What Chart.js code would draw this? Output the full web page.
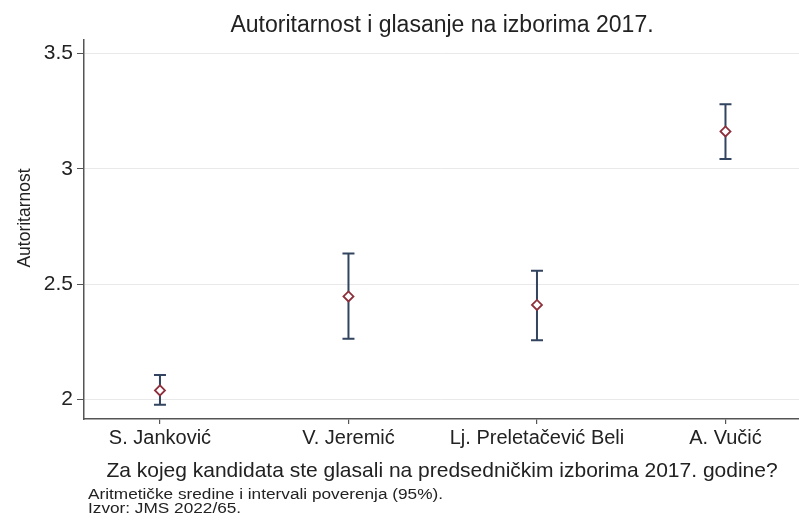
<!DOCTYPE html>
<html>
<head>
<meta charset="utf-8">
<script src="https://cdn.jsdelivr.net/npm/chart.js@4"></script>
<style>
  html, body { margin: 0; padding: 0; background: #fff; }
  canvas { display: block; }
</style>
</head>
<body>
<canvas id="chart" width="799" height="521"></canvas>
<script>
// data
const categories = ['S. Janković', 'V. Jeremić', 'Lj. Preletačević Beli', 'A. Vučić'];
const means = [2.040, 2.447, 2.410, 3.162];
const ciLow = [1.978, 2.264, 2.257, 3.042];
const ciHigh = [2.107, 2.633, 2.558, 3.280];
const yTicks = [2, 2.5, 3, 3.5];
const yTickLabels = ['2', '2.5', '3', '3.5'];

const titleText = 'Autoritarnost i glasanje na izborima 2017.';
const yTitle = 'Autoritarnost';
const xTitle = 'Za kojeg kandidata ste glasali na predsedničkim izborima 2017. godine?';
const notes = ['Aritmetičke sredine i intervali poverenja (95%).', 'Izvor: JMS 2022/65.'];

const FONT = '"Liberation Sans", Arial, sans-serif';
const barColor = '#32445f';
const markerColor = '#8e2f3c';

// whiskers + caps, positioned with the chart's own scales
const errorBars = {
  id: 'errorBars',
  beforeDatasetsDraw(chart) {
    const { ctx, scales: { x, y } } = chart;
    ctx.save();
    ctx.strokeStyle = barColor;
    ctx.lineWidth = 2;
    categories.forEach((c, i) => {
      const px = x.getPixelForValue(i);
      const top = y.getPixelForValue(ciHigh[i]);
      const bot = y.getPixelForValue(ciLow[i]);
      ctx.beginPath();
      ctx.moveTo(px, top);
      ctx.lineTo(px, bot);
      ctx.moveTo(px - 6, top);
      ctx.lineTo(px + 6, top);
      ctx.moveTo(px - 6, bot);
      ctx.lineTo(px + 6, bot);
      ctx.stroke();
    });
    ctx.restore();
  }
};

// titles and notes (notes look horizontally stretched in the original)
const texts = {
  id: 'texts',
  afterDraw(chart) {
    const { ctx } = chart;
    const cx = 442;
    ctx.save();
    ctx.fillStyle = '#222';
    ctx.textBaseline = 'alphabetic';
    ctx.textAlign = 'center';
    ctx.font = '23px ' + FONT;
    ctx.fillText(titleText, cx, 32);
    ctx.font = '21px ' + FONT;
    ctx.fillText(xTitle, cx, 477);
    ctx.save();
    ctx.translate(30, 218);
    ctx.rotate(-Math.PI / 2);
    ctx.font = '17.5px ' + FONT;
    ctx.fillText(yTitle, 0, 0);
    ctx.restore();
    ctx.textAlign = 'left';
    ctx.font = '14px ' + FONT;
    const sx = 355 / ctx.measureText(notes[0]).width;
    ctx.translate(88, 0);
    ctx.scale(sx, 1);
    ctx.fillText(notes[0], 0, 499);
    ctx.fillText(notes[1], 0, 513);
    ctx.restore();
  }
};

new Chart(document.getElementById('chart'), {
  type: 'scatter',
  data: {
    datasets: [{
      data: means.map((m, i) => ({ x: i, y: m })),
      pointStyle: 'rectRot',
      pointRadius: 5,
      pointHoverRadius: 5,
      borderWidth: 1.8,
      borderColor: markerColor,
      backgroundColor: '#fff'
    }]
  },
  options: {
    responsive: false,
    animation: false,
    events: [],
    layout: { autoPadding: false, padding: { top: 40, right: 0, left: 0, bottom: 0 } },
    plugins: {
      legend: { display: false },
      tooltip: { enabled: false }
    },
    scales: {
      x: {
        type: 'linear',
        min: -0.403,
        max: 3.39,
        afterBuildTicks: (scale) => { scale.ticks = categories.map((c, i) => ({ value: i })); },
        afterFit: (scale) => { scale.height = 102; scale.paddingLeft = 0; scale.paddingRight = 0; },
        grid: { drawOnChartArea: false, drawTicks: true, tickLength: 5, color: '#555', lineWidth: 1.2 },
        border: { display: true, color: '#555', width: 1.5 },
        ticks: {
          callback: (v) => categories[v],
          color: '#222',
          font: { family: FONT, size: 20 },
          padding: 2,
          maxRotation: 0,
          autoSkip: false
        }
      },
      y: {
        min: 1.916,
        max: 3.558,
        afterBuildTicks: (scale) => { scale.ticks = yTicks.map(v => ({ value: v })); },
        afterFit: (scale) => { scale.width = 84; scale.paddingTop = 0; scale.paddingBottom = 0; },
        grid: { color: '#e9e9e9', lineWidth: 1, drawTicks: true, tickLength: 7, tickColor: '#555' },
        border: { display: true, color: '#555', width: 1.5 },
        ticks: {
          callback: (v) => yTickLabels[yTicks.indexOf(v)],
          color: '#222',
          font: { family: FONT, size: 21 },
          padding: 4
        }
      }
    }
  },
  plugins: [errorBars, texts]
});
</script>
</body>
</html>
